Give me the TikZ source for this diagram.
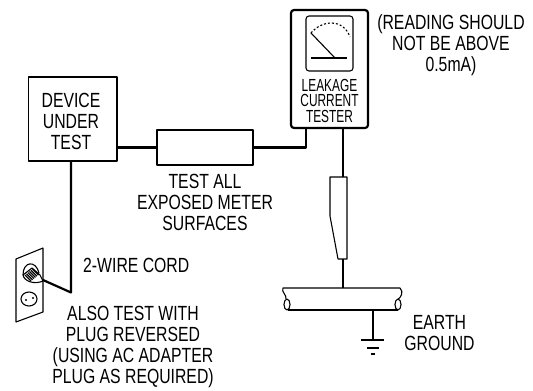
\documentclass[tikz,border=0pt]{standalone}
\usepackage{fontspec}
\setmainfont[FakeStretch=0.77]{Liberation Sans}
\newfontfamily\testerfont[FakeStretch=0.68]{Liberation Sans}
\tikzset{
  label/.style={align=center,inner sep=0pt,font=\fontsize{20.5}{21}\selectfont},
  wire/.style={line width=2.2pt},
  thin wire/.style={line width=1.1pt},
  box/.style={draw,line width=1.1pt,inner sep=0pt,minimum width=#1},
}
\begin{document}
\begin{tikzpicture}[x=1pt,y=-1pt,line join=round]
\useasboundingbox (0,0) rectangle (533,391);
\node[box=88.5pt,minimum height=84pt] (device) at (72.75,119) {};
\node[label] (devicename) at (71,121) {DEVICE\\UNDER\\TEST};
\node[box=96pt,minimum height=35pt] (surface) at (205,147.5) {};
\node[draw,line width=2.2pt,rounded corners=3pt,minimum width=77pt,minimum height=118pt,inner sep=0pt] (tester) at (329.5,69) {};
\node[draw,line width=1.1pt,rounded corners=3pt,minimum width=47pt,minimum height=55pt,inner sep=0pt] (meter) at (329.5,43.5) {};
\node[align=center,inner sep=0pt,font=\testerfont\fontsize{17.5}{15.5}\selectfont] (testername) at (329.5,100.5) {LEAKAGE\\CURRENT\\TESTER};
\node[label] (reading) at (451,45) {(READING SHOULD\\NOT BE ABOVE\\0.5mA)};
\node[label] (surfacetext) at (205,202) {TEST ALL\\EXPOSED METER\\SURFACES};
\node[label,anchor=west] (cord) at (83,265) {2-WIRE CORD};
\node[label] (reversed) at (133,346.5) {ALSO TEST WITH\\PLUG REVERSED\\(USING AC ADAPTER\\PLUG AS REQUIRED)};
\node[label] (earth) at (439.5,333) {EARTH\\GROUND};
% wires
\coordinate (cordcorner) at (71,292.5);
\coordinate (plug) at (43,280);
\coordinate (testerin) at (306,128);
\coordinate (testerout) at (343,128);
\coordinate (fusetop) at (343,177);
\coordinate (fusebot) at (343,259);
\coordinate (pipetop) at (343,288);
\coordinate (pipebot) at (373,310);
\coordinate (groundtop) at (373,340);
\draw[wire] (surface.west -| device.east) -- (surface.west);
\draw[wire] (surface.east) -| (testerin);
\draw[wire] (device.south -| cordcorner) -- (cordcorner) -- (plug);
\draw[wire] (testerout) -- (fusetop);
\draw[wire] (fusebot) -- (pipetop);
\draw[thin wire] (pipebot) -- (groundtop);
% meter face
\draw[thin wire] (311,33) -- (335,58);
\draw[thin wire] (311,58) -- (347,58);
\draw[thin wire,dash pattern=on 2pt off 2pt] (311,33) .. controls (322,20) and (343,18) .. (350,37);
% fuse
\draw[thin wire] (330,177) -- (347,177) -- (347,259) -- (338,259) -- (330,216) -- cycle;
% pipe
\draw[thin wire] (398,299.5) .. controls (401,297) and (404,292) .. (400,288) -- (283,288) .. controls (281,292) and (287,295) .. (286,299);
\draw[thin wire] (288,310) -- (398,310);
\draw[thin wire] (287,304.5) ellipse (3 and 5.5);
\draw[thin wire] (398,304.5) ellipse (3 and 5.5);
% earth symbol
\draw[thin wire] (361,340) -- (384,340);
\draw[thin wire] (367,348) -- (379,348);
\draw[thin wire] (371,354) -- (375,354);
% outlet
\draw[thin wire] (16,259) -- (43,248) -- (43,312) -- (16,322) -- cycle;
\draw[thin wire] (23,275) .. controls (23,261) and (36,260) .. (39,273);
\draw[thin wire] (23,275) .. controls (24,281) and (34,285) .. (43,281) -- (40,275) -- (32,268) -- cycle;
\foreach \i in {0,...,5}
  \draw[line width=1.2pt] (25+1.5*\i,275-1.2*\i) -- (31+1.5*\i,281-1.2*\i);
\draw[thin wire] (29,299) ellipse (8 and 7);
\fill (26,300) circle (1.2);
\fill (33,298) circle (1.2);
\end{tikzpicture}
\end{document}
